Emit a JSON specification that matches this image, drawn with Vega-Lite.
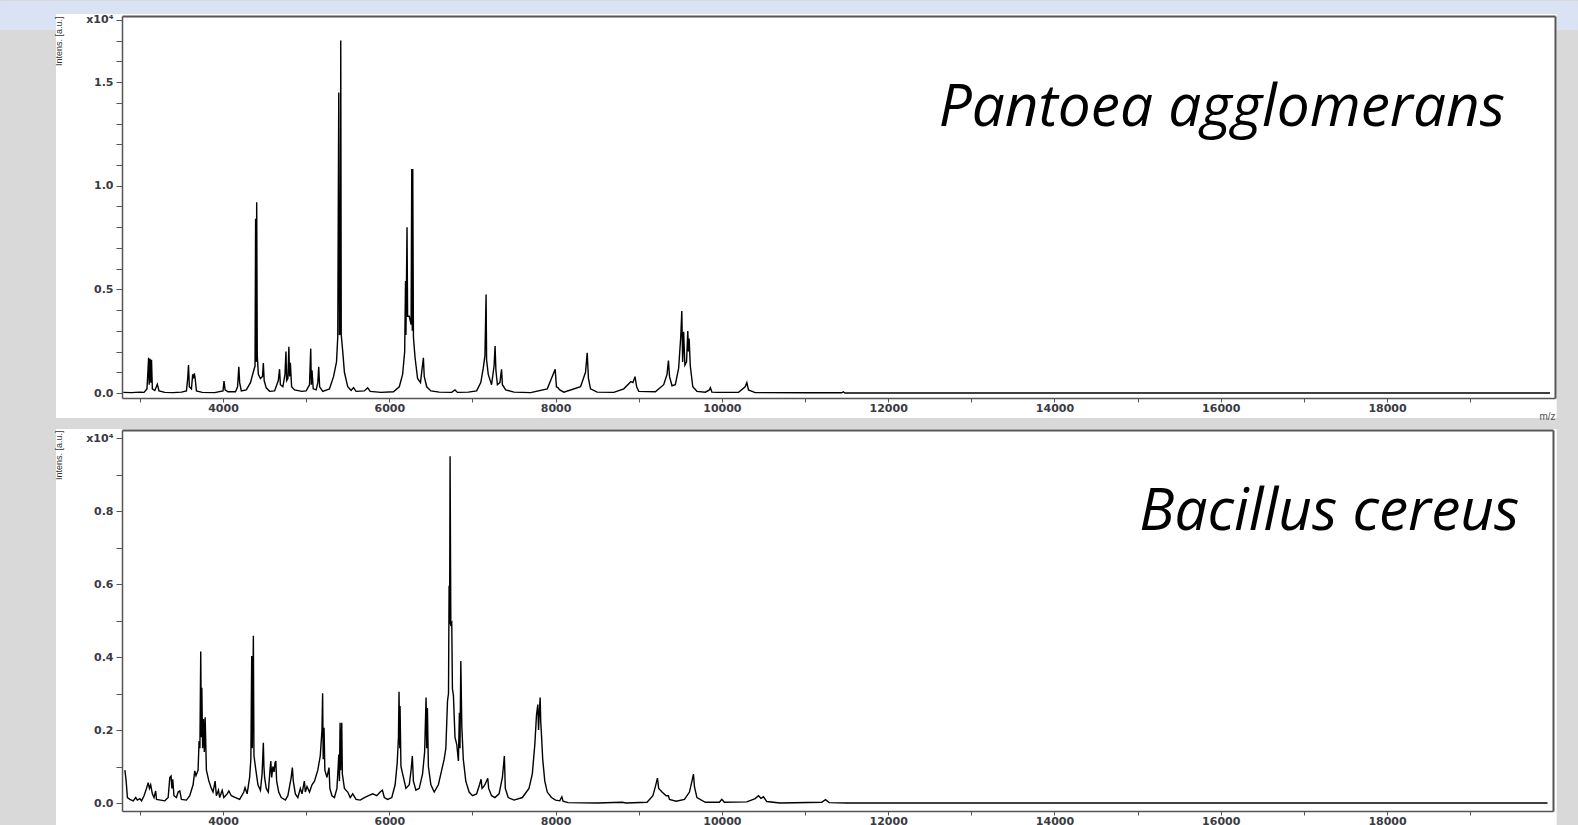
{
  "$schema": "https://vega.github.io/schema/vega-lite/v6.json",
  "background": "#d9d9d9",
  "padding": 0,
  "bounds": "flush",
  "spacing": 32,
  "config": {
    "view": {"stroke": null, "fill": "white"},
    "axis": {
      "labelFont": "DejaVu Sans", "labelFontSize": 11, "labelFontWeight": "bold", "labelColor": "#3a3a44",
      "domainColor": "#555555", "domainWidth": 1.5, "tickColor": "#555555", "tickWidth": 1,
      "grid": false, "labelOverlap": false, "labelFlush": false
    }
  },
  "datasets": {
    "pantoea": [
      {"mz":2800,"i":30},{"mz":2900,"i":20},{"mz":3000,"i":40},{"mz":3050,"i":30},{"mz":3085,"i":200},{"mz":3095,"i":900},{"mz":3105,"i":1700},{"mz":3112,"i":400},{"mz":3122,"i":1650},{"mz":3132,"i":500},{"mz":3140,"i":1600},{"mz":3150,"i":200},{"mz":3180,"i":120},{"mz":3210,"i":420},{"mz":3230,"i":100},{"mz":3300,"i":30},{"mz":3400,"i":20},{"mz":3500,"i":40},{"mz":3560,"i":100},{"mz":3575,"i":700},{"mz":3585,"i":1350},{"mz":3595,"i":300},{"mz":3620,"i":200},{"mz":3635,"i":900},{"mz":3645,"i":700},{"mz":3655,"i":950},{"mz":3665,"i":700},{"mz":3680,"i":100},{"mz":3750,"i":30},{"mz":3900,"i":20},{"mz":4000,"i":100},{"mz":4012,"i":580},{"mz":4025,"i":150},{"mz":4060,"i":60},{"mz":4150,"i":60},{"mz":4175,"i":300},{"mz":4190,"i":1270},{"mz":4200,"i":500},{"mz":4220,"i":100},{"mz":4280,"i":150},{"mz":4330,"i":500},{"mz":4370,"i":1100},{"mz":4385,"i":1300},{"mz":4392,"i":8400},{"mz":4398,"i":1500},{"mz":4405,"i":9200},{"mz":4412,"i":1800},{"mz":4425,"i":900},{"mz":4450,"i":700},{"mz":4475,"i":800},{"mz":4485,"i":1450},{"mz":4495,"i":600},{"mz":4520,"i":250},{"mz":4560,"i":80},{"mz":4620,"i":100},{"mz":4665,"i":600},{"mz":4680,"i":1150},{"mz":4690,"i":400},{"mz":4720,"i":300},{"mz":4745,"i":900},{"mz":4757,"i":2000},{"mz":4765,"i":600},{"mz":4780,"i":700},{"mz":4792,"i":2230},{"mz":4800,"i":800},{"mz":4810,"i":1460},{"mz":4825,"i":300},{"mz":4860,"i":150},{"mz":4950,"i":80},{"mz":5000,"i":100},{"mz":5040,"i":400},{"mz":5055,"i":2140},{"mz":5062,"i":400},{"mz":5070,"i":1100},{"mz":5085,"i":200},{"mz":5120,"i":150},{"mz":5140,"i":500},{"mz":5151,"i":1270},{"mz":5162,"i":300},{"mz":5200,"i":80},{"mz":5280,"i":200},{"mz":5330,"i":800},{"mz":5365,"i":1500},{"mz":5380,"i":2700},{"mz":5392,"i":14500},{"mz":5400,"i":2800},{"mz":5410,"i":2900},{"mz":5416,"i":17000},{"mz":5422,"i":2800},{"mz":5440,"i":2000},{"mz":5460,"i":1000},{"mz":5500,"i":300},{"mz":5540,"i":120},{"mz":5570,"i":260},{"mz":5600,"i":80},{"mz":5700,"i":100},{"mz":5740,"i":250},{"mz":5770,"i":80},{"mz":5900,"i":30},{"mz":6050,"i":60},{"mz":6120,"i":300},{"mz":6160,"i":900},{"mz":6185,"i":2000},{"mz":6195,"i":5400},{"mz":6200,"i":2800},{"mz":6213,"i":8000},{"mz":6220,"i":3700},{"mz":6240,"i":3700},{"mz":6262,"i":3300},{"mz":6270,"i":10800},{"mz":6276,"i":3000},{"mz":6282,"i":10800},{"mz":6290,"i":2700},{"mz":6310,"i":1700},{"mz":6340,"i":700},{"mz":6375,"i":500},{"mz":6395,"i":1200},{"mz":6410,"i":1700},{"mz":6420,"i":800},{"mz":6450,"i":300},{"mz":6500,"i":100},{"mz":6600,"i":40},{"mz":6750,"i":30},{"mz":6790,"i":150},{"mz":6820,"i":30},{"mz":6950,"i":40},{"mz":7050,"i":100},{"mz":7100,"i":500},{"mz":7130,"i":1200},{"mz":7150,"i":1800},{"mz":7164,"i":4750},{"mz":7170,"i":1600},{"mz":7190,"i":900},{"mz":7230,"i":400},{"mz":7260,"i":1300},{"mz":7272,"i":2270},{"mz":7282,"i":1100},{"mz":7300,"i":400},{"mz":7330,"i":500},{"mz":7350,"i":1140},{"mz":7360,"i":400},{"mz":7400,"i":150},{"mz":7500,"i":40},{"mz":7700,"i":20},{"mz":7900,"i":200},{"mz":7950,"i":700},{"mz":7995,"i":1140},{"mz":8010,"i":300},{"mz":8030,"i":250},{"mz":8050,"i":150},{"mz":8100,"i":40},{"mz":8300,"i":300},{"mz":8360,"i":1000},{"mz":8380,"i":1940},{"mz":8395,"i":700},{"mz":8420,"i":200},{"mz":8500,"i":40},{"mz":8700,"i":30},{"mz":8820,"i":200},{"mz":8880,"i":450},{"mz":8905,"i":550},{"mz":8930,"i":500},{"mz":8955,"i":790},{"mz":8975,"i":300},{"mz":9000,"i":80},{"mz":9200,"i":60},{"mz":9300,"i":400},{"mz":9340,"i":900},{"mz":9357,"i":1570},{"mz":9370,"i":800},{"mz":9400,"i":350},{"mz":9440,"i":400},{"mz":9480,"i":1200},{"mz":9505,"i":2700},{"mz":9518,"i":3950},{"mz":9528,"i":1500},{"mz":9540,"i":2950},{"mz":9555,"i":1350},{"mz":9575,"i":1500},{"mz":9590,"i":2990},{"mz":9598,"i":2000},{"mz":9606,"i":2630},{"mz":9620,"i":1300},{"mz":9650,"i":300},{"mz":9700,"i":80},{"mz":9800,"i":40},{"mz":9850,"i":150},{"mz":9862,"i":260},{"mz":9880,"i":40},{"mz":9950,"i":30},{"mz":10200,"i":30},{"mz":10280,"i":300},{"mz":10300,"i":500},{"mz":10320,"i":150},{"mz":10400,"i":20},{"mz":11000,"i":10},{"mz":11440,"i":10},{"mz":11460,"i":60},{"mz":11480,"i":0},{"mz":12000,"i":0},{"mz":19960,"i":0}
    ],
    "bacillus": [
      {"mz":2820,"i":900},{"mz":2835,"i":600},{"mz":2850,"i":150},{"mz":2880,"i":100},{"mz":2920,"i":60},{"mz":2950,"i":150},{"mz":2970,"i":80},{"mz":3000,"i":120},{"mz":3020,"i":60},{"mz":3050,"i":200},{"mz":3080,"i":400},{"mz":3100,"i":560},{"mz":3115,"i":400},{"mz":3130,"i":500},{"mz":3150,"i":250},{"mz":3170,"i":150},{"mz":3190,"i":330},{"mz":3200,"i":100},{"mz":3250,"i":80},{"mz":3300,"i":60},{"mz":3340,"i":150},{"mz":3360,"i":700},{"mz":3375,"i":740},{"mz":3385,"i":400},{"mz":3395,"i":650},{"mz":3410,"i":200},{"mz":3440,"i":150},{"mz":3460,"i":300},{"mz":3480,"i":330},{"mz":3500,"i":100},{"mz":3560,"i":80},{"mz":3600,"i":200},{"mz":3640,"i":500},{"mz":3660,"i":880},{"mz":3675,"i":750},{"mz":3700,"i":900},{"mz":3712,"i":1700},{"mz":3722,"i":1500},{"mz":3732,"i":4150},{"mz":3740,"i":1800},{"mz":3745,"i":3160},{"mz":3755,"i":1500},{"mz":3765,"i":2300},{"mz":3775,"i":1400},{"mz":3785,"i":2350},{"mz":3800,"i":900},{"mz":3830,"i":600},{"mz":3860,"i":400},{"mz":3880,"i":300},{"mz":3905,"i":600},{"mz":3920,"i":200},{"mz":3945,"i":350},{"mz":3960,"i":150},{"mz":3990,"i":350},{"mz":4010,"i":150},{"mz":4050,"i":250},{"mz":4070,"i":330},{"mz":4100,"i":200},{"mz":4150,"i":150},{"mz":4200,"i":100},{"mz":4250,"i":300},{"mz":4265,"i":420},{"mz":4290,"i":250},{"mz":4320,"i":700},{"mz":4335,"i":1200},{"mz":4345,"i":4030},{"mz":4352,"i":1500},{"mz":4365,"i":4580},{"mz":4372,"i":1300},{"mz":4395,"i":900},{"mz":4420,"i":500},{"mz":4450,"i":350},{"mz":4470,"i":800},{"mz":4485,"i":1650},{"mz":4492,"i":1000},{"mz":4500,"i":700},{"mz":4520,"i":400},{"mz":4545,"i":300},{"mz":4565,"i":900},{"mz":4575,"i":1150},{"mz":4585,"i":700},{"mz":4600,"i":1000},{"mz":4615,"i":850},{"mz":4625,"i":1100},{"mz":4635,"i":1150},{"mz":4645,"i":600},{"mz":4670,"i":300},{"mz":4700,"i":150},{"mz":4750,"i":80},{"mz":4780,"i":200},{"mz":4820,"i":700},{"mz":4834,"i":970},{"mz":4845,"i":600},{"mz":4870,"i":250},{"mz":4900,"i":150},{"mz":4930,"i":400},{"mz":4950,"i":250},{"mz":4978,"i":600},{"mz":4990,"i":300},{"mz":5010,"i":450},{"mz":5040,"i":300},{"mz":5070,"i":500},{"mz":5100,"i":600},{"mz":5140,"i":900},{"mz":5170,"i":1300},{"mz":5190,"i":2000},{"mz":5198,"i":3010},{"mz":5205,"i":1200},{"mz":5215,"i":2060},{"mz":5225,"i":900},{"mz":5250,"i":700},{"mz":5275,"i":970},{"mz":5285,"i":400},{"mz":5310,"i":200},{"mz":5340,"i":150},{"mz":5370,"i":400},{"mz":5385,"i":1000},{"mz":5392,"i":1330},{"mz":5400,"i":600},{"mz":5408,"i":2200},{"mz":5415,"i":900},{"mz":5428,"i":2200},{"mz":5435,"i":800},{"mz":5460,"i":400},{"mz":5500,"i":300},{"mz":5530,"i":150},{"mz":5560,"i":250},{"mz":5600,"i":100},{"mz":5650,"i":80},{"mz":5700,"i":150},{"mz":5750,"i":200},{"mz":5800,"i":250},{"mz":5850,"i":200},{"mz":5890,"i":300},{"mz":5917,"i":350},{"mz":5940,"i":150},{"mz":5980,"i":100},{"mz":6030,"i":150},{"mz":6070,"i":500},{"mz":6095,"i":1100},{"mz":6110,"i":1800},{"mz":6117,"i":3050},{"mz":6125,"i":1500},{"mz":6129,"i":2660},{"mz":6140,"i":1000},{"mz":6170,"i":700},{"mz":6200,"i":400},{"mz":6240,"i":500},{"mz":6262,"i":900},{"mz":6277,"i":1290},{"mz":6290,"i":600},{"mz":6320,"i":350},{"mz":6360,"i":400},{"mz":6400,"i":800},{"mz":6425,"i":1400},{"mz":6442,"i":2890},{"mz":6450,"i":1500},{"mz":6458,"i":2600},{"mz":6470,"i":1000},{"mz":6500,"i":500},{"mz":6540,"i":300},{"mz":6590,"i":500},{"mz":6630,"i":900},{"mz":6660,"i":1200},{"mz":6680,"i":1500},{"mz":6700,"i":2800},{"mz":6712,"i":3000},{"mz":6719,"i":5950},{"mz":6725,"i":4900},{"mz":6731,"i":9500},{"mz":6740,"i":4900},{"mz":6751,"i":4940},{"mz":6759,"i":3130},{"mz":6771,"i":2950},{"mz":6790,"i":1800},{"mz":6811,"i":1610},{"mz":6831,"i":1150},{"mz":6843,"i":2470},{"mz":6850,"i":1500},{"mz":6860,"i":3890},{"mz":6872,"i":2100},{"mz":6890,"i":1200},{"mz":6920,"i":600},{"mz":6960,"i":300},{"mz":7000,"i":200},{"mz":7050,"i":250},{"mz":7085,"i":500},{"mz":7104,"i":650},{"mz":7115,"i":400},{"mz":7135,"i":450},{"mz":7150,"i":500},{"mz":7184,"i":680},{"mz":7195,"i":400},{"mz":7230,"i":200},{"mz":7270,"i":150},{"mz":7320,"i":250},{"mz":7360,"i":700},{"mz":7384,"i":1290},{"mz":7395,"i":400},{"mz":7430,"i":150},{"mz":7500,"i":80},{"mz":7600,"i":150},{"mz":7680,"i":400},{"mz":7720,"i":800},{"mz":7750,"i":1600},{"mz":7770,"i":2400},{"mz":7786,"i":2700},{"mz":7795,"i":2000},{"mz":7805,"i":2500},{"mz":7814,"i":2890},{"mz":7822,"i":2200},{"mz":7830,"i":1880},{"mz":7845,"i":1200},{"mz":7870,"i":600},{"mz":7900,"i":300},{"mz":7950,"i":150},{"mz":8000,"i":80},{"mz":8050,"i":60},{"mz":8075,"i":170},{"mz":8090,"i":50},{"mz":8150,"i":10},{"mz":8500,"i":0},{"mz":8800,"i":20},{"mz":8850,"i":0},{"mz":9100,"i":20},{"mz":9170,"i":200},{"mz":9200,"i":450},{"mz":9225,"i":680},{"mz":9240,"i":400},{"mz":9280,"i":300},{"mz":9330,"i":200},{"mz":9357,"i":200},{"mz":9370,"i":100},{"mz":9450,"i":50},{"mz":9550,"i":100},{"mz":9610,"i":300},{"mz":9640,"i":600},{"mz":9658,"i":790},{"mz":9670,"i":450},{"mz":9700,"i":150},{"mz":9800,"i":20},{"mz":9970,"i":20},{"mz":9999,"i":100},{"mz":10030,"i":20},{"mz":10300,"i":30},{"mz":10400,"i":120},{"mz":10440,"i":200},{"mz":10470,"i":130},{"mz":10500,"i":170},{"mz":10540,"i":40},{"mz":10700,"i":0},{"mz":11200,"i":20},{"mz":11246,"i":90},{"mz":11290,"i":10},{"mz":11500,"i":0},{"mz":19930,"i":0}
    ]
  },
  "vconcat": [
    {
      "width": 1433,
      "height": 382,
      "layer": [
        {
          "data": {"values": [{}]},
          "mark": {"type": "rect", "fill": "#dae3f3"},
          "encoding": {
            "x": {"datum": 1318, "type": "quantitative", "scale": {"domain": [2785, 20020], "nice": false, "zero": false},
                  "axis": {"orient": "top", "ticks": false, "labels": false, "title": null, "domainColor": "#555555", "domainWidth": 2, "zindex": 2}},
            "x2": {"datum": 20296},
            "y": {"datum": 18910, "type": "quantitative", "scale": {"domain": [-241, 18186], "nice": false, "zero": false},
                  "axis": {"orient": "right", "ticks": false, "labels": false, "title": null, "domainColor": "#555555", "domainWidth": 2, "zindex": 2}},
            "y2": {"datum": 17511}
          }
        },
        {
          "data": {"values": [{}]},
          "mark": {"type": "rect", "fill": "white"},
          "encoding": {
            "x": {"datum": 1991, "type": "quantitative", "scale": {"domain": [2785, 20020], "nice": false, "zero": false}, "axis": null},
            "x2": {"datum": 20040},
            "y": {"datum": 18283, "type": "quantitative", "scale": {"domain": [-241, 18186], "nice": false, "zero": false}, "axis": null},
            "y2": {"datum": -1206}
          }
        },
        {
          "data": {"name": "pantoea"},
          "mark": {"type": "line", "color": "black", "strokeWidth": 1.4},
          "encoding": {
            "x": {"field": "mz", "type": "quantitative", "scale": {"domain": [2785, 20020], "nice": false, "zero": false},
                  "axis": {"orient": "bottom", "zindex": 2, "values": [3000,4000,5000,6000,7000,8000,9000,10000,11000,12000,13000,14000,15000,16000,17000,18000,19000],
                           "labelExpr": "datum.value % 2000 == 0 ? format(datum.value, 'd') : ''",
                           "tickSize": 4, "labelPadding": 0,
                           "title": "m/z", "titleAnchor": "end", "titleFont": "Liberation Sans", "titleFontSize": 10, "titleFontWeight": "normal", "titleColor": "#555555", "titlePadding": -2}},
            "y": {"field": "i", "type": "quantitative", "scale": {"domain": [-241, 18186], "nice": false, "zero": false},
                  "axis": {"orient": "left", "zindex": 2, "values": [0,1000,2000,3000,4000,5000,6000,7000,8000,9000,10000,11000,12000,13000,14000,15000,16000,17000,18000],
                           "labelExpr": "datum.value == 18000 ? 'x10⁴' : (datum.value % 5000 == 0 ? format(datum.value / 10000, '.1f') : '')",
                           "tickSize": 6, "labelPadding": 3,
                           "title": "Intens. [a.u.]", "titleAnchor": "end", "titleFont": "Liberation Sans", "titleFontSize": 9, "titleFontWeight": "normal", "titleColor": "#333333", "titlePadding": 22}}
          }
        },
        {
          "data": {"values": [{"name": "Pantoea agglomerans"}]},
          "mark": {"type": "text", "font": "Open Sans", "fontStyle": "italic", "fontSize": 58.5, "align": "right", "baseline": "alphabetic", "color": "black"},
          "encoding": {
            "text": {"field": "name"},
            "x": {"datum": 19418, "type": "quantitative", "scale": {"domain": [2785, 20020], "nice": false, "zero": false}, "axis": null},
            "y": {"datum": 12880, "type": "quantitative", "scale": {"domain": [-241, 18186], "nice": false, "zero": false}, "axis": null}
          }
        }
      ],
      "resolve": {"axis": {"x": "independent", "y": "independent"}}
    },
    {
      "width": 1431,
      "height": 381,
      "layer": [
        {
          "data": {"values": [{}]},
          "mark": {"type": "rect", "fill": "white"},
          "encoding": {
            "x": {"datum": 1991, "type": "quantitative", "scale": {"domain": [2785, 19996], "nice": false, "zero": false},
                  "axis": {"orient": "top", "ticks": false, "labels": false, "title": null, "domainColor": "#555555", "domainWidth": 2, "zindex": 2}},
            "x2": {"datum": 20040},
            "y": {"datum": 10248, "type": "quantitative", "scale": {"domain": [-219, 10220], "nice": false, "zero": false},
                  "axis": {"orient": "right", "ticks": false, "labels": false, "title": null, "domainColor": "#555555", "domainWidth": 2, "zindex": 2}},
            "y2": {"datum": -630}
          }
        },
        {
          "data": {"name": "bacillus"},
          "mark": {"type": "line", "color": "black", "strokeWidth": 1.4},
          "encoding": {
            "x": {"field": "mz", "type": "quantitative", "scale": {"domain": [2785, 19996], "nice": false, "zero": false},
                  "axis": {"orient": "bottom", "zindex": 2, "values": [3000,4000,5000,6000,7000,8000,9000,10000,11000,12000,13000,14000,15000,16000,17000,18000,19000],
                           "labelExpr": "datum.value % 2000 == 0 ? format(datum.value, 'd') : ''",
                           "tickSize": 4, "labelPadding": 0, "title": null}},
            "y": {"field": "i", "type": "quantitative", "scale": {"domain": [-219, 10220], "nice": false, "zero": false},
                  "axis": {"orient": "left", "zindex": 2, "values": [0,1000,2000,3000,4000,5000,6000,7000,8000,9000,10000],
                           "labelExpr": "datum.value == 10000 ? 'x10⁴' : (datum.value % 2000 == 0 ? format(datum.value / 10000, '.1f') : '')",
                           "tickSize": 6, "labelPadding": 3,
                           "title": "Intens. [a.u.]", "titleAnchor": "end", "titleFont": "Liberation Sans", "titleFontSize": 9, "titleFontWeight": "normal", "titleColor": "#333333", "titlePadding": 22}}
          }
        },
        {
          "data": {"values": [{"name": "Bacillus cereus"}]},
          "mark": {"type": "text", "font": "Open Sans", "fontStyle": "italic", "fontSize": 58.5, "align": "right", "baseline": "alphabetic", "color": "black"},
          "encoding": {
            "text": {"field": "name"},
            "x": {"datum": 19590, "type": "quantitative", "scale": {"domain": [2785, 19996], "nice": false, "zero": false}, "axis": null},
            "y": {"datum": 7480, "type": "quantitative", "scale": {"domain": [-219, 10220], "nice": false, "zero": false}, "axis": null}
          }
        }
      ],
      "resolve": {"axis": {"x": "independent", "y": "independent"}}
    }
  ]
}
